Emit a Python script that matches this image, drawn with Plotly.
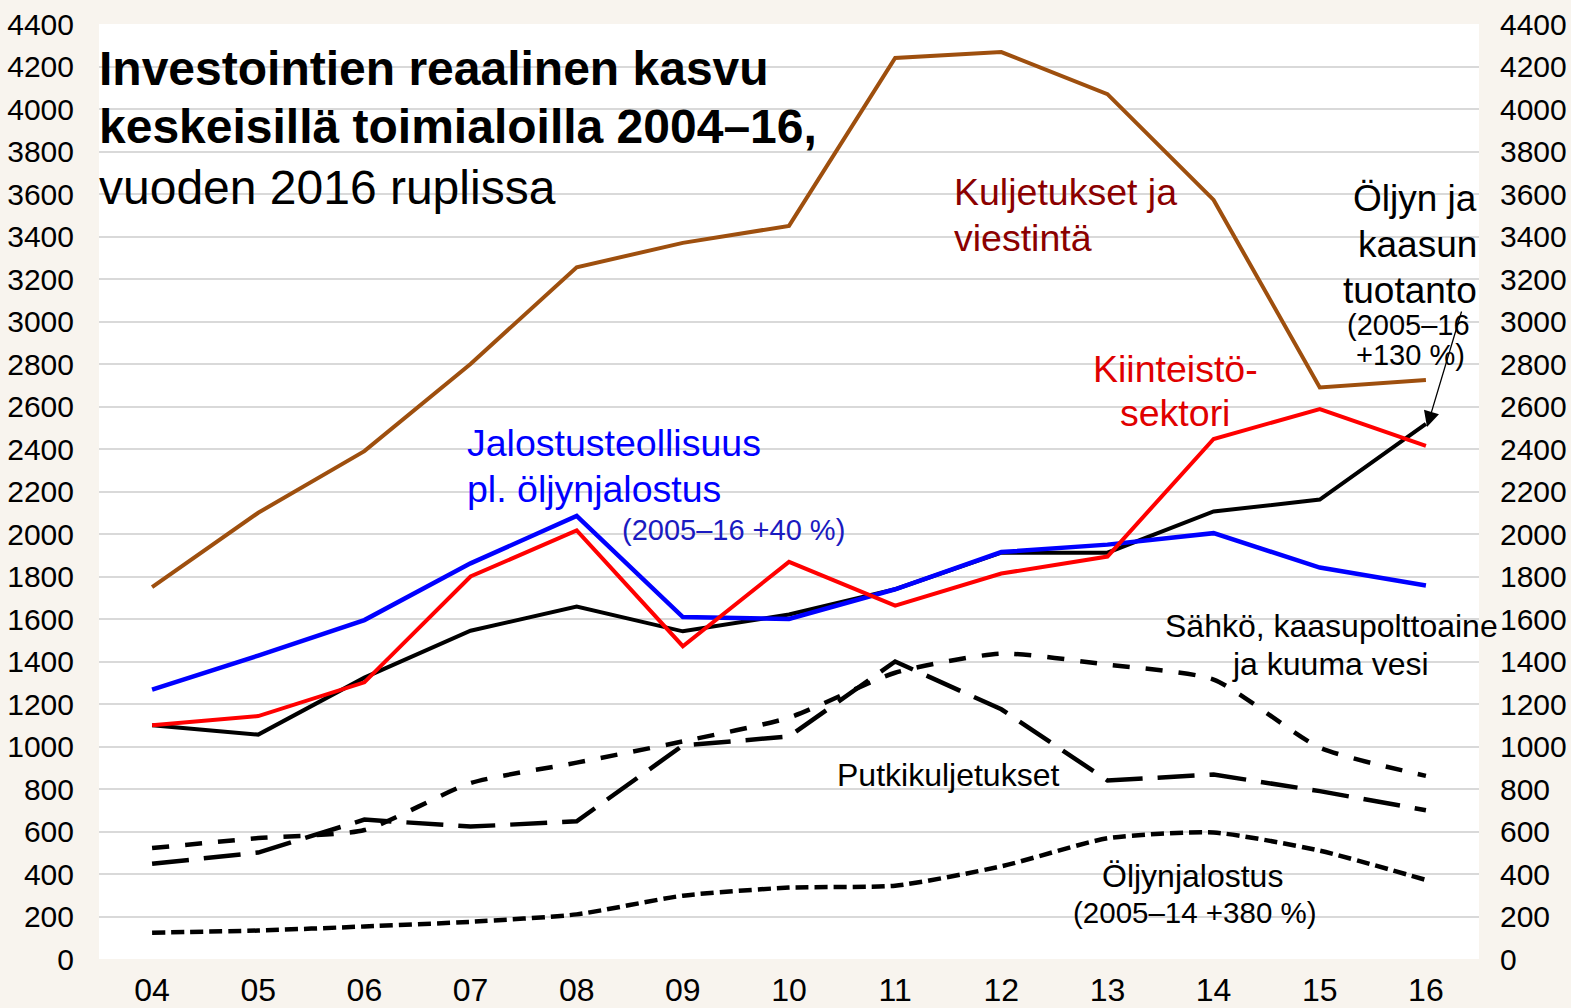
import plotly.graph_objects as go

years = ["04", "05", "06", "07", "08", "09", "10", "11", "12", "13", "14", "15", "16"]
kuljetukset = [1750, 2100, 2390, 2800, 3255, 3370, 3450, 4240, 4268, 4070, 3572, 2690, 2725]
jalostus = [1268, 1428, 1595, 1862, 2085, 1609, 1600, 1740, 1915, 1950, 2004, 1842, 1758]
kiinteisto = [1100, 1143, 1302, 1800, 2017, 1472, 1869, 1663, 1814, 1894, 2447, 2588, 2415]
oljy_kaasu = [1100, 1056, 1324, 1545, 1658, 1542, 1621, 1740, 1912, 1912, 2106, 2162, 2518]
sahko = [522, 569, 607, 828, 924, 1024, 1136, 1347, 1437, 1385, 1315, 995, 862]
putki = [448, 501, 656, 623, 648, 1005, 1047, 1400, 1175, 840, 868, 790, 700]
oljynjalostus = [124, 134, 153, 175, 210, 298, 336, 345, 436, 568, 595, 510, 372]
y_ticks = list(range(0, 4401, 200))

W, H = 1571, 1008
L, R, T, B = 99, 1479, 24, 959
FONT = "Liberation Sans, Arial, sans-serif"

fig = go.Figure()

def add_line(y, color, width, dash="solid", shape="linear"):
    fig.add_trace(go.Scatter(x=years, y=y, mode="lines",
                             line=dict(color=color, width=width, dash=dash, shape=shape,
                                       smoothing=0.6 if shape == "spline" else None),
                             showlegend=False, hoverinfo="skip"))

add_line(oljynjalostus, "black", 4.5, "13px,6px", "spline")
add_line(putki, "black", 4.5, "37px,15px")
add_line(sahko, "black", 4.5, "17px,16px", "spline")
add_line(oljy_kaasu, "black", 4)
add_line(jalostus, "#0000FF", 4.5)
add_line(kiinteisto, "#FF0000", 4)
add_line(kuljetukset, "#9E4F0E", 4)

# invisible trace for right axis
fig.add_trace(go.Scatter(x=years, y=kuljetukset, yaxis="y2", mode="lines",
                         line=dict(width=0), opacity=0, showlegend=False, hoverinfo="skip"))

def px(xp):
    return (xp - L) / (R - L)

def py(yp):
    return (B - yp) / (B - T)

def label(text, xp, yp, size, color="black", anchor="left", bold=False):
    if bold:
        text = "<b>" + text + "</b>"
    fig.add_annotation(text=text, x=px(xp), y=py(yp), xref="paper", yref="paper",
                       xanchor=anchor, yanchor="middle", showarrow=False,
                       font=dict(size=size, color=color, family=FONT))

label("Investointien reaalinen kasvu", 97, 68, 48, bold=True)
label("keskeisillä toimialoilla 2004–16,", 97, 127, 48, bold=True)
label("vuoden 2016 ruplissa", 97, 187, 48)

label("Kuljetukset ja", 952, 192, 37.5, "#8B0000")
label("viestintä", 952, 238, 37.5, "#8B0000")

label("Jalostusteollisuus", 465, 443, 37.5, "#0000FF")
label("pl. öljynjalostus", 465, 489, 37.5, "#0000FF")
label("(2005–16 +40 %)", 620, 530, 29, "#1A1AC0")

label("Kiinteistö-", 1175, 369, 37.5, "#E00000", "center")
label("sektori", 1175, 413, 37.5, "#E00000", "center")

label("Öljyn ja", 1479, 198, 37, "black", "right")
label("kaasun", 1479, 245, 37, "black", "right")
label("tuotanto", 1479, 291, 37, "black", "right")
label("(2005–16", 1408, 325, 29, "black", "center")
label("+130 %)", 1410, 355, 29, "black", "center")

label("Sähkö, kaasupolttoaine", 1331, 626, 32, "black", "center")
label("ja kuuma vesi", 1330, 664, 32, "black", "center")

label("Putkikuljetukset", 835, 775, 32)

label("Öljynjalostus", 1192, 876, 32, "black", "center")
label("(2005–14 +380 %)", 1195, 912, 29.5, "black", "center")

# arrow
fig.add_annotation(x=px(1427), y=py(427), xref="paper", yref="paper",
                   ax=1462 - 1427, ay=310 - 427, axref="pixel", ayref="pixel",
                   showarrow=True, arrowhead=2, arrowsize=2.4, arrowwidth=1.3,
                   arrowcolor="black", text="")

axis_font = dict(size=30, color="black", family=FONT)
fig.update_layout(
    width=W, height=H,
    margin=dict(l=L, r=W - R, t=T, b=H - B, pad=0, autoexpand=False),
    paper_bgcolor="#F8F4EE",
    plot_bgcolor="white",
    xaxis=dict(type="category", range=[-0.5, 12.5], showgrid=False, zeroline=False,
               showline=False, ticks="", tickfont=dict(size=32, color="black", family=FONT),
               ticklabelstandoff=9, automargin=False),
    yaxis=dict(range=[0, 4400], tickvals=y_ticks, showgrid=True, gridcolor="#D9D9D9",
               gridwidth=2, zeroline=False, showline=False, ticks="",
               tickfont=axis_font, ticklabelstandoff=24, automargin=False),
    yaxis2=dict(range=[0, 4400], tickvals=y_ticks, overlaying="y", side="right",
                showgrid=False, zeroline=False, showline=False, ticks="",
                tickfont=axis_font, ticklabelstandoff=20, automargin=False),
)

fig.write_html(
    "out.html",
    config={"displayModeBar": False},
    post_script="document.body.style.margin='0';document.body.style.padding='0';"
                "document.body.style.overflow='hidden';"
                "document.body.style.background='#F8F4EE';",
)
